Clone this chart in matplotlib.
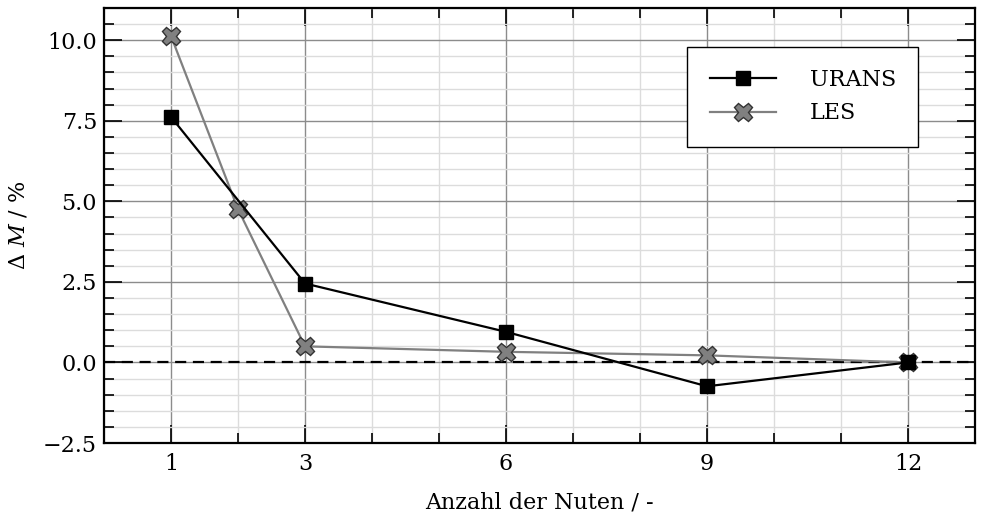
import numpy as np
import matplotlib
matplotlib.use("Agg")
import matplotlib.pyplot as plt
from matplotlib.ticker import MultipleLocator, FixedLocator, FuncFormatter

# ----------------------------
# Data
# ----------------------------
urans_x = [1, 3, 6, 9, 12]
urans_y = [7.62, 2.45, 0.95, -0.74, 0.0]

les_x = [1, 2, 3, 6, 9, 12]
les_y = [10.13, 4.76, 0.50, 0.33, 0.22, 0.0]

xticks = [1, 3, 6, 9, 12]

plt.rcParams['font.family'] = ['DejaVu Serif']
plt.rcParams['mathtext.fontset'] = 'dejavuserif'
plt.rcParams['font.size'] = 16

fig = plt.figure(figsize=(9.82, 5.2), dpi=100)
ax = fig.add_axes([104 / 982, 1 - 443 / 520, (975 - 104) / 982, (443 - 8) / 520])

# grids
ax.set_axisbelow(True)
ax.grid(True, which="major", color="#8c8c8c", linewidth=1.0)
ax.grid(True, which="minor", color="#dcdcdc", linewidth=1.0)

ax.axhline(0.0, color="black", linestyle=(0, (5, 3)), linewidth=1.6, zorder=2)

ax.plot(urans_x, urans_y, color="black", linewidth=1.6, marker="s",
        markersize=10, markerfacecolor="black", markeredgecolor="black",
        label="URANS", zorder=4)
ax.plot(les_x, les_y, color="#808080", linewidth=1.6, marker="X",
        markersize=13, markerfacecolor="#808080", markeredgecolor="#333333",
        markeredgewidth=1.0, label="LES", zorder=3)

ax.set_xlim(0, 13)
ax.set_ylim(-2.5, 11.0)
ax.xaxis.set_major_locator(FixedLocator(xticks))
ax.xaxis.set_minor_locator(MultipleLocator(1))
ax.yaxis.set_major_locator(MultipleLocator(2.5))
ax.yaxis.set_minor_locator(MultipleLocator(0.5))
ax.yaxis.set_major_formatter(FuncFormatter(lambda v, p: f"{v:.1f}".replace("-", "\u2212")))

ax.tick_params(which="both", direction="in", top=True, right=True, width=1.2)
ax.tick_params(which="major", length=13, labelsize=16)
ax.tick_params(axis="x", which="major", pad=7)
ax.tick_params(axis="y", which="major", pad=5)
ax.tick_params(which="minor", length=7)
for s in ax.spines.values():
    s.set_linewidth(1.6)

ax.set_xlabel("Anzahl der Nuten / -", fontsize=16, labelpad=12)
ax.set_ylabel(r"$\Delta\ M$ / %", fontsize=16, labelpad=10)

# legend box: right edge at x=918, top at y=47 (pixels)
leg = ax.legend(loc="upper right",
                bbox_to_anchor=((918 - 104) / 871, 1 - (47 - 8) / 435),
                fancybox=False, framealpha=1.0, edgecolor="black",
                handlelength=3.0, borderpad=1.0, labelspacing=0.5,
                handletextpad=1.5, borderaxespad=0.0, fontsize=16)
leg.get_frame().set_linewidth(1.0)
leg.set_zorder(10)

fig.savefig("out.png", dpi=100)
